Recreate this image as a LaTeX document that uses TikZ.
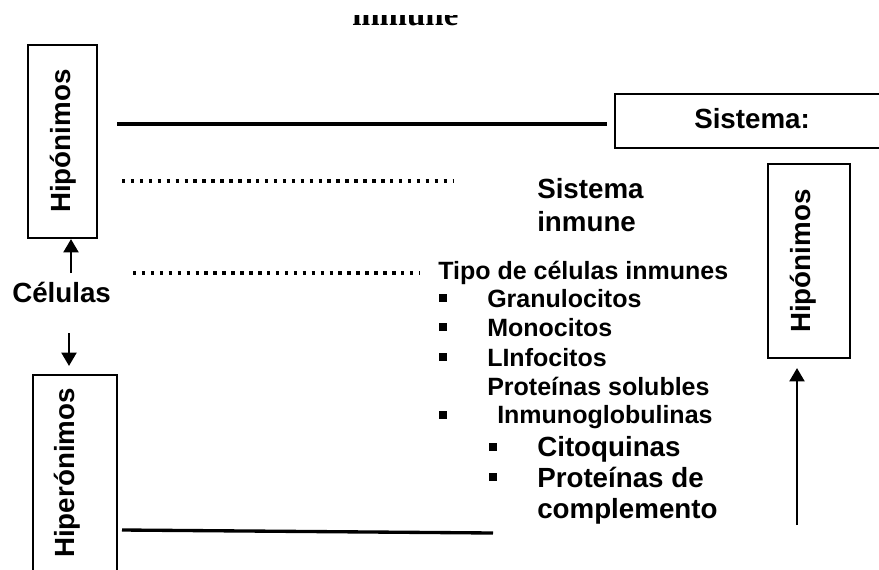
\documentclass[tikz,border=0pt]{standalone}
\usepackage{fontspec}
\setmainfont{Liberation Sans}
\newfontfamily\serifface{Liberation Serif}
\usetikzlibrary{arrows.meta}
\begin{document}
\begin{tikzpicture}[x=0.75pt,y=-0.75pt,
  box/.style={draw, line width=1.5pt, inner sep=0pt},
  lab/.style={font=\bfseries\fontsize{20.8}{25}\selectfont, inner sep=0pt, anchor=base west},
  sm/.style={font=\bfseries\fontsize{18.75}{22}\selectfont, inner sep=0pt, anchor=base west},
  rlab/.style={lab, rotate=90},
  bul/.style={fill, inner sep=0pt, minimum size=5.5pt},
  conn/.style={line width=2.5pt},
  dots/.style={line width=2.6pt, dash pattern=on 2.6pt off 4.1pt},
  arr/.style={line width=2.2pt, -{Triangle[width=11pt,length=10pt]}}]
\useasboundingbox (0,0) rectangle (879,569);
\clip (0,0) rectangle (879,569);
% partially visible title
\begin{scope}
\clip (330,15) rectangle (480,40);
\node[inner sep=0pt, anchor=base west, font=\serifface\bfseries\fontsize{24.7}{28}\selectfont] (ttl) at (352,25) {inmune};
\end{scope}
% boxes
\node[box, minimum width=51.75pt, minimum height=144.75pt] (hipoL) at (62.5,141.5) {};
\node[box, minimum width=63pt, minimum height=168.75pt] (hiper) at (75,487.5) {};
\node[box, minimum width=213.75pt, minimum height=40.5pt] (sis) at (757.5,121) {};
\node[box, minimum width=61.5pt, minimum height=145.5pt] (hipoR) at (809,261) {};
% box labels
\node[rlab] (thipoL) at (70,213) {Hipónimos};
\node[rlab] (thiper) at (74,558) {Hiperónimos};
\node[rlab] (thipoR) at (810,333) {Hipónimos};
\node[lab] (tsis) at (694,128) {Sistema:};
% texts
\node[lab] (cel) at (12,302) {Células};
\node[lab, align=left, font=\bfseries\fontsize{20.8}{24.75}\selectfont] (sisinm) at (537,231) {Sistema\\inmune};
\node[sm] (tipo) at (438,279) {Tipo de células inmunes};
\node[sm] (gran) at (487,307) {Granulocitos};
\node[sm] (mono) at (487,336) {Monocitos};
\node[sm] (linf) at (487,366) {LInfocitos};
\node[sm] (prot) at (487,395) {Proteínas solubles};
\node[sm] (inmg) at (497,423) {Inmunoglobulinas};
\node[lab] (cito) at (537,456) {Citoquinas};
\node[lab, align=left, font=\bfseries\fontsize{20.8}{23.25}\selectfont] (comp) at (537,518) {Proteínas de\\complemento};
% bullets
\node[bul] (b1) at (443,298) {};
\node[bul] (b2) at (443,327) {};
\node[bul] (b3) at (443,357) {};
\node[bul] (b4) at (443,415) {};
\node[bul] (b5) at (493,447) {};
\node[bul] (b6) at (493,477) {};
% connector end points
\coordinate (l1a) at (117,124);
\coordinate (l1b) at (607,124);
\coordinate (d1a) at (122,181);
\coordinate (d1b) at (453,181);
\coordinate (d2a) at (133,273);
\coordinate (d2b) at (420,273);
\coordinate (l2a) at (122,530);
\coordinate (l2b) at (493,533);
\coordinate (a1) at (71,273);
\coordinate (a2) at (69,333);
\coordinate (a3) at (797,525);
% connectors
\draw[conn] (l1a) -- (l1b);
\draw[conn] (l2a) -- (l2b);
\draw[dots] (d1a) -- (d1b);
\draw[dots] (d2a) -- (d2b);
\draw[arr] (a1) -- (a1 |- hipoL.south);
\draw[arr, shorten >=6pt] (a2) -- (a2 |- hiper.north);
\draw[arr, shorten >=6.75pt] (a3) -- (a3 |- hipoR.south);
\end{tikzpicture}
\end{document}
